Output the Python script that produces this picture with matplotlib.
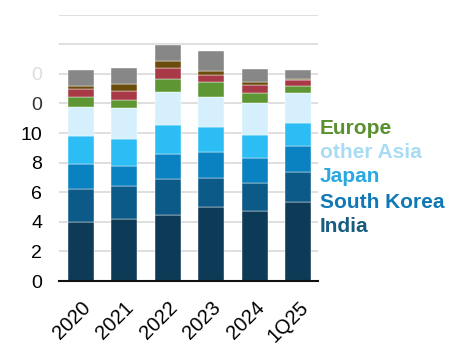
import matplotlib
matplotlib.use("Agg")
import matplotlib.pyplot as plt
import numpy as np

categories = ["2020", "2021", "2022", "2023", "2024", "1Q25"]
china       = [4.00, 4.17, 4.48, 5.02, 4.75, 5.32]
india       = [2.24, 2.27, 2.43, 1.94, 1.89, 2.04]
south_korea = [1.66, 1.35, 1.67, 1.76, 1.69, 1.78]
japan       = [1.90, 1.80, 1.94, 1.66, 1.56, 1.54]
other_asia  = [1.99, 2.08, 2.23, 2.07, 2.11, 2.00]
europe      = [0.61, 0.56, 0.88, 0.97, 0.68, 0.52]
middle_east = [0.54, 0.61, 0.74, 0.50, 0.56, 0.38]
africa      = [0.26, 0.45, 0.49, 0.29, 0.18, 0.05]
other       = [1.06, 1.08, 1.09, 1.33, 0.88, 0.61]

series = [china, india, south_korea, japan, other_asia, europe, middle_east, africa, other]
colors = ["#0d3a56", "#0b5a87", "#0a82c1", "#2dbdf5", "#d5f0fc",
          "#5d9632", "#a83a47", "#6b4c0c", "#878787"]

legend_labels = ["Europe", "other Asia", "Japan", "South Korea", "India"]
legend_colors = ["#5a9030", "#a8dcf5", "#2aa8e0", "#0f78b5", "#185c80"]

plt.rcParams['font.family'] = ['Liberation Sans', 'DejaVu Sans']

fig = plt.figure(figsize=(4.54, 3.57), dpi=100)
ax = fig.add_axes([59/454, 1-281/357, (318-59)/454, (281-14.6)/357])

x = np.arange(len(categories))
bottom = np.zeros(len(categories))
for vals, c in zip(series, colors):
    ax.bar(x, vals, bottom=bottom, width=0.6, color=c, edgecolor="white",
           linewidth=0.3, zorder=3)
    bottom += np.array(vals)

ax.set_xlim(-0.5, 5.45)
ax.set_ylim(0, 18)
ax.set_yticks(np.arange(0, 19, 2))
ax.grid(axis="y", color="#d9d9d9", linewidth=1.2, zorder=0)
ax.set_axisbelow(True)
for s in ["top", "right", "left"]:
    ax.spines[s].set_visible(False)
ax.spines["bottom"].set_color("#111111")
ax.spines["bottom"].set_linewidth(1.5)
ax.spines["bottom"].set_zorder(4)

ytick_labels = ["0", "2", "4", "6", "8", "10", "0", "0", "", ""]
ax.set_yticklabels(ytick_labels, fontsize=14)
ax.tick_params(axis="y", length=0, pad=12)
tls = ax.get_yticklabels()
tls[6].set_color("#333333")
tls[7].set_color("#dddddd")

ax.set_xticks(x)
ax.set_xticklabels(categories, rotation=45, ha="right", rotation_mode="anchor", fontsize=14.5)
ax.tick_params(axis="x", length=0, pad=12)

ys = [128, 153, 177, 202, 227]
for lab, col, yp in zip(legend_labels, legend_colors, ys):
    fig.text(320/454, 1-yp/357, lab, color=col, fontsize=15, fontweight="bold",
             ha="left", va="center")

fig.savefig("out.png", dpi=100)
